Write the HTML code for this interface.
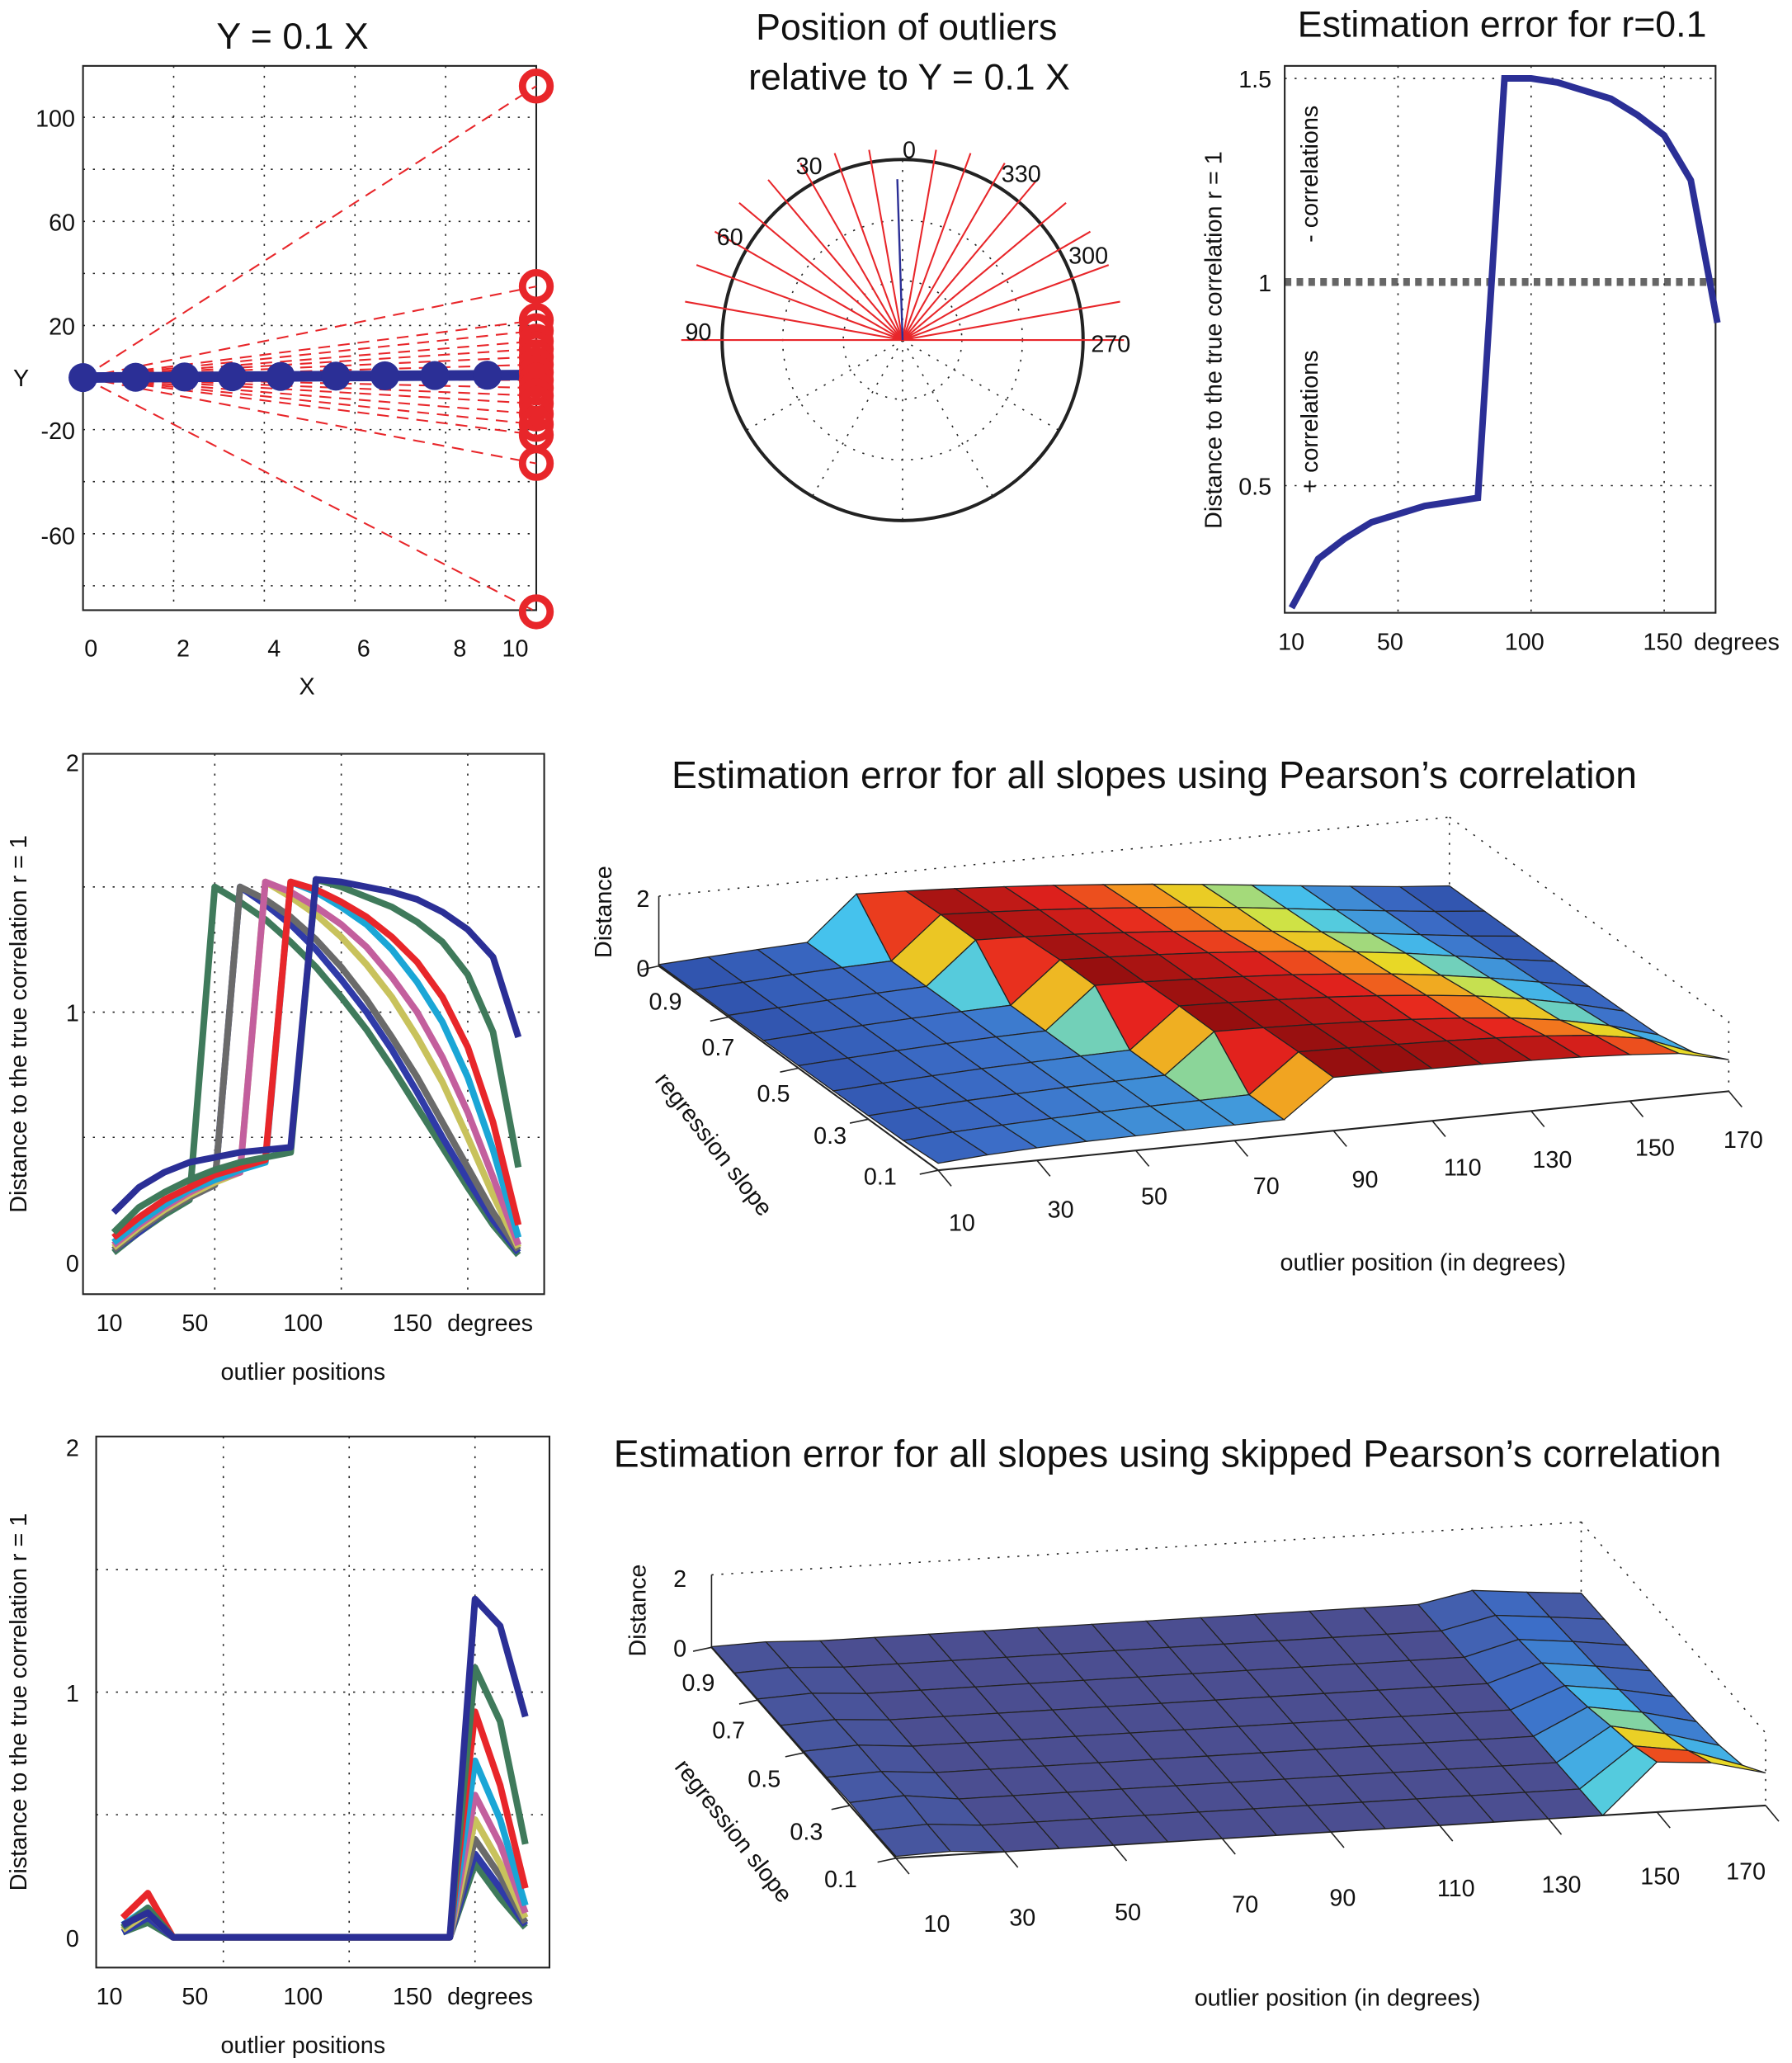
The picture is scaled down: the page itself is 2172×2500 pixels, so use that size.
<!DOCTYPE html>
<html><head><meta charset="utf-8"><style>
html,body{margin:0;padding:0;background:#fff}
svg{display:block}
text{font-family:"Liberation Sans",sans-serif;fill:#111}
</style></head><body>
<svg id="fig" width="2172" height="2500" viewBox="0 0 1360 1565.4" preserveAspectRatio="none" xmlns="http://www.w3.org/2000/svg">
<g id="titles" font-size="28">
<text x="222" y="37" text-anchor="middle">Y = 0.1 X</text>
<text x="688" y="30" text-anchor="middle">Position of outliers</text>
<text x="690" y="68" text-anchor="middle">relative to Y = 0.1 X</text>
<text x="1140" y="28" text-anchor="middle">Estimation error for r=0.1</text>
<text x="876" y="598" text-anchor="middle" font-size="29">Estimation error for all slopes using Pearson’s correlation</text>
<text x="886" y="1113" text-anchor="middle" font-size="29">Estimation error for all slopes using skipped Pearson’s correlation</text>
</g>
<g id="gA"></g><g id="gB"></g><g id="gC"></g><g id="gD"></g><g id="gE"></g><g id="gF"></g><g id="gG"></g>
</svg>
<script>
// ---------- data ----------
const blueX = [0,1.16,2.24,3.29,4.36,5.58,6.66,7.76,8.92];
const outlierY = [112,35,22,18,14,11,8,5,2,-1,-4,-7,-10,-14,-18,-22,-33,-90];
const polarDeg = [0,10,20,30,40,50,60,70,80,100,110,120,130,140,150,160,170,180];
const degrees = [10,20,30,40,50,60,70,80,90,100,110,120,130,140,150,160,170];
const errR01 = [0.20,0.32,0.37,0.41,0.43,0.45,0.46,0.47,1.50,1.50,1.49,1.47,1.45,1.41,1.36,1.25,0.90];
const slopes = [0.1,0.2,0.3,0.4,0.5,0.6,0.7,0.8,0.9];
const pear1 = [0.20,0.30,0.36,0.40,0.42,0.44,0.45,0.46,1.53,1.52,1.50,1.48,1.45,1.40,1.33,1.22,0.90];
const pear2 = [0.12,0.22,0.28,0.33,0.37,0.40,0.42,0.44,1.53,1.50,1.46,1.42,1.36,1.28,1.15,0.92,0.38];
const pear3 = [0.10,0.18,0.25,0.30,0.35,0.38,0.41,1.52,1.49,1.44,1.38,1.30,1.20,1.06,0.86,0.56,0.15];
const pear4 = [0.08,0.16,0.23,0.29,0.33,0.37,0.40,1.52,1.48,1.42,1.35,1.25,1.12,0.96,0.74,0.45,0.10];
const pear5 = [0.07,0.15,0.22,0.28,0.33,0.36,1.52,1.48,1.42,1.35,1.26,1.14,1.00,0.82,0.60,0.34,0.07];
const pear6 = [0.06,0.14,0.21,0.27,0.32,0.36,1.52,1.46,1.39,1.30,1.19,1.06,0.90,0.72,0.50,0.27,0.06];
const pear7 = [0.05,0.13,0.20,0.26,0.31,1.50,1.45,1.38,1.29,1.18,1.05,0.90,0.74,0.56,0.38,0.20,0.05];
const pear8 = [0.05,0.12,0.20,0.26,0.31,1.50,1.43,1.35,1.25,1.13,1.00,0.85,0.68,0.50,0.33,0.17,0.04];
const pear9 = [0.04,0.12,0.19,0.25,1.50,1.44,1.37,1.28,1.18,1.06,0.93,0.78,0.62,0.46,0.30,0.15,0.03];
const skip1 = [0.05,0.10,0,0,0,0,0,0,0,0,0,0,0,0,1.38,1.27,0.90];
const skip2 = [0.04,0.12,0,0,0,0,0,0,0,0,0,0,0,0,1.10,0.88,0.38];
const skip3 = [0.08,0.18,0,0,0,0,0,0,0,0,0,0,0,0,0.92,0.62,0.20];
const skip4 = [0.05,0.12,0,0,0,0,0,0,0,0,0,0,0,0,0.72,0.48,0.13];
const skip5 = [0.04,0.12,0,0,0,0,0,0,0,0,0,0,0,0,0.58,0.38,0.10];
const skip6 = [0.03,0.10,0,0,0,0,0,0,0,0,0,0,0,0,0.48,0.30,0.08];
const skip7 = [0.03,0.10,0,0,0,0,0,0,0,0,0,0,0,0,0.40,0.25,0.06];
const skip8 = [0.02,0.08,0,0,0,0,0,0,0,0,0,0,0,0,0.34,0.20,0.05];
const skip9 = [0.02,0.06,0,0,0,0,0,0,0,0,0,0,0,0,0.30,0.16,0.04];
const pearson = [pear1,pear2,pear3,pear4,pear5,pear6,pear7,pear8,pear9];
const skipped = [skip1,skip2,skip3,skip4,skip5,skip6,skip7,skip8,skip9];
const lineColors = ['#2b2f96','#3f7a5b','#e8262a','#1aa6d6','#c35f9d','#c8c25c','#6a6a6a','#2f3aa8','#3f7a5b'];

const NS='http://www.w3.org/2000/svg';
function mk(parent,tag,attrs,name){const e=document.createElementNS(NS,tag);for(const k in attrs)e.setAttribute(k,attrs[k]);


parent.appendChild(e);return e;}
function txt(parent,x,y,s,name,opt){const o=Object.assign({x:x,y:y,'font-size':18,'text-anchor':'middle'},opt||{});const t=mk(parent,'text',o,name);t.textContent=s;return t;}
const dot={stroke:'#222','stroke-width':1,'stroke-dasharray':'1.5 6',fill:'none'};

// ---------- Panel A ----------
(function(){
const g=document.getElementById('gA');
const xA=X=>63+34.4*X, yA=Y=>286.5-1.975*Y;
[-80,-40,0,40,80,100,60,20,-20,-60].forEach(v=>mk(g,'line',Object.assign({x1:63,x2:407,y1:yA(v),y2:yA(v)},dot),'grid-h'));
[2,4,6,8].forEach(v=>mk(g,'line',Object.assign({x1:xA(v),x2:xA(v),y1:50,y2:463},dot),'grid-v'));
mk(g,'rect',{x:63,y:50,width:344,height:413,fill:'none',stroke:'#222','stroke-width':1.3},'axes-box-a');
outlierY.forEach(v=>mk(g,'line',{x1:xA(0),y1:yA(0),x2:xA(10),y2:yA(v),stroke:'#e8262a','stroke-width':1.3,'stroke-dasharray':'9 6'},'outlier-dash'));
mk(g,'line',{x1:xA(0),y1:yA(0),x2:xA(10),y2:yA(1),stroke:'#2b2f96','stroke-width':8},'regression-line');
blueX.forEach(X=>mk(g,'circle',{cx:xA(X),cy:yA(0.1*X),r:11,fill:'#2b2f96'},'data-point'));
outlierY.forEach(v=>{mk(g,'circle',{cx:xA(10),cy:yA(v),r:10.5,fill:'none',stroke:'#e8262a','stroke-width':5.5},'outlier-point');});
[[69,'0'],[139,'2'],[208,'4'],[276,'6'],[349,'8'],[391,'10']].forEach(a=>txt(g,a[0],498,a[1],'x-tick-a'));
[[100,89],[60,168],[20,247],[-20,326],[-60,406]].forEach(a=>txt(g,57,a[1]+7,String(a[0]),'y-tick-a',{'text-anchor':'end'}));
txt(g,233,527,'X','x-label-a');txt(g,16,293,'Y','y-label-a');
})();

// ---------- Panel B (polar) ----------
(function(){
const g=document.getElementById('gB');const cx=685,cy=258,R=137;
[45,91].forEach(r=>mk(g,'circle',Object.assign({cx:cx,cy:cy,r:r},dot),'polar-grid-circle'));
for(let a=0;a<360;a+=30){const t=a*Math.PI/180;mk(g,'line',Object.assign({x1:cx,y1:cy,x2:cx-R*Math.sin(t),y2:cy-R*Math.cos(t)},dot),'polar-spoke');}
mk(g,'circle',{cx:cx,cy:cy,r:R,fill:'none',stroke:'#222','stroke-width':2.5},'polar-circle');
polarDeg.forEach(d=>{const a=(90-d)*Math.PI/180;const L=142+26*Math.abs(Math.sin(a));
mk(g,'line',{x1:cx,y1:cy,x2:cx-L*Math.sin(a),y2:cy-L*Math.cos(a),stroke:'#e8262a','stroke-width':1.3},'outlier-ray');});
mk(g,'line',{x1:cx,y1:cy,x2:cx-4,y2:cy-122,stroke:'#2b2f96','stroke-width':1.5},'regression-ray');
[[690,120,'0'],[614,132,'30'],[554,186,'60'],[530,258,'90'],[775,138,'330'],[826,200,'300'],[843,267,'270']].forEach(a=>txt(g,a[0],a[1],a[2],'polar-label'));
})();

// ---------- Panel C ----------
(function(){
const g=document.getElementById('gC');
const xC=d=>960+2.02*d, yC=v=>214-309*(v-1);
[1.5,0.5].forEach(v=>mk(g,'line',Object.assign({x1:975,x2:1302,y1:yC(v),y2:yC(v)},dot),'grid-h'));
[50,100,150].forEach(v=>mk(g,'line',Object.assign({x1:xC(v),x2:xC(v),y1:50,y2:465},dot),'grid-v'));
mk(g,'line',{x1:975,x2:1302,y1:yC(1),y2:yC(1),stroke:'#333','stroke-width':6,'stroke-dasharray':'5 4',opacity:0.75},'reference-line');
mk(g,'rect',{x:975,y:50,width:327,height:415,fill:'none',stroke:'#222','stroke-width':1.3},'axes-box-c');
mk(g,'polyline',{points:degrees.map((d,i)=>xC(d)+','+yC(errR01[i])).join(' '),fill:'none',stroke:'#2b2f96','stroke-width':5},'error-line');
[[1.5,'1.5'],[1,'1'],[0.5,'0.5']].forEach(a=>txt(g,965,yC(a[0])+7,a[1],'y-tick-c',{'text-anchor':'end'}));
[[980,'10'],[1055,'50'],[1157,'100'],[1262,'150']].forEach(a=>txt(g,a[0],493,a[1],'x-tick-c'));
txt(g,1318,493,'degrees','x-unit-c');
txt(g,0,0,'Distance to the true correlation r = 1','y-label-c',{transform:'translate(927,258) rotate(-90)'});
txt(g,0,0,'- correlations','neg-label',{transform:'translate(1000,132) rotate(-90)'});
txt(g,0,0,'+ correlations','pos-label',{transform:'translate(1000,320) rotate(-90)'});
})();

// ---------- line panels D & F ----------
function linePanel(id,data,box,y0,ys,x0,xs,ylabs){
const g=document.getElementById(id);
const xf=d=>x0+xs*d, yf=v=>y0-ys*v;
[0.5,1,1.5].forEach(v=>mk(g,'line',Object.assign({x1:box[0],x2:box[2],y1:yf(v),y2:yf(v)},dot),'grid-h'));
[50,100,150].forEach(v=>mk(g,'line',Object.assign({x1:xf(v),x2:xf(v),y1:box[1],y2:box[3]},dot),'grid-v'));
mk(g,'rect',{x:box[0],y:box[1],width:box[2]-box[0],height:box[3]-box[1],fill:'none',stroke:'#222','stroke-width':1.3},'axes-box');
for(let i=data.length-1;i>=0;i--){
mk(g,'polyline',{points:degrees.map((d,j)=>xf(d)+','+yf(data[i][j])).join(' '),fill:'none',stroke:lineColors[i],'stroke-width':5,'stroke-linejoin':'round'},'series-slope-'+slopes[i]);}
[2,1,0].forEach(v=>txt(g,60,yf(v)+7,String(v),'y-tick',{'text-anchor':'end'}));
const ty=box[3]+28;
[[83,'10'],[148,'50'],[230,'100'],[313,'150']].forEach(a=>txt(g,a[0],ty,a[1],'x-tick'));
txt(g,372,ty,'degrees','x-unit');
txt(g,230,ty+37,'outlier positions','x-label');
txt(g,0,0,'Distance to the true correlation r = 1','y-label',{transform:'translate(20,'+((box[1]+box[3])/2)+') rotate(-90)'});
}
linePanel('gD',pearson,[63,572,413,982],958,190,67,1.92);
linePanel('gF',skipped,[73,1090,417,1493],1470,186,74,1.91);

// ---------- 3D surfaces ----------
function jet(v,low){const t=Math.max(0,Math.min(1,v/1.5));
const st=[[0,low],[0.2,[60,110,200]],[0.4,[70,200,240]],[0.55,[230,230,40]],[0.7,[245,140,30]],[0.82,[230,35,30]],[1,[150,15,15]]];
for(let k=1;k<st.length;k++){if(t<=st[k][0]){const a=st[k-1],b=st[k],f=(t-a[0])/(b[0]-a[0]);
return 'rgb('+[0,1,2].map(c=>Math.round(a[1][c]+f*(b[1][c]-a[1][c]))).join(',')+')';}}return 'rgb(150,15,15)';}
function surface(id,data,BL,FL,BR,h,low,labels){
const g=document.getElementById(id);
const P=(s,d,z)=>{const u=(0.9-s)/0.8,v=(d-10)/160;return [BL[0]+u*(FL[0]-BL[0])+v*(BR[0]-BL[0]),BL[1]+u*(FL[1]-BL[1])+v*(BR[1]-BL[1])-h*z];};
const pt=p=>p[0].toFixed(1)+','+p[1].toFixed(1);
const bl2=P(0.9,10,2),br2=P(0.9,170,2),br0=P(0.9,170,0),fr0=P(0.1,170,0),fr2=P(0.1,170,2);
mk(g,'polyline',Object.assign({points:[bl2,br2,br0].map(pt).join(' ')},dot),'box-back');
mk(g,'polyline',Object.assign({points:[br2,fr2,fr0].map(pt).join(' ')},dot),'box-side');
mk(g,'line',{x1:P(0.9,10,0)[0],y1:P(0.9,10,0)[1],x2:bl2[0],y2:bl2[1],stroke:'#222','stroke-width':1},'z-axis');
const a1=P(0.9,10,0),a2=P(0.1,10,0),a3=P(0.1,170,0);
mk(g,'polyline',{points:[a1,a2,a3].map(pt).join(' '),fill:'none',stroke:'#222','stroke-width':1.3},'base-axes');
for(let i=slopes.length-1;i>0;i--){for(let j=0;j<degrees.length-1;j++){
const s0=slopes[i],s1=slopes[i-1],d0=degrees[j],d1=degrees[j+1];
const z=[data[i][j],data[i][j+1],data[i-1][j+1],data[i-1][j]];
const avg=(z[0]+z[1]+z[2]+z[3])/4;
mk(g,'polygon',{points:[P(s0,d0,z[0]),P(s0,d1,z[1]),P(s1,d1,z[2]),P(s1,d0,z[3])].map(pt).join(' '),fill:jet(avg,low),stroke:'#222','stroke-width':0.8},'surface-cell');}}
slopes.filter((s,i)=>i%2==0).forEach(s=>{const p=P(s,10,0);mk(g,'line',{x1:p[0],y1:p[1],x2:p[0]-14,y2:p[1]+3,stroke:'#222','stroke-width':1},'slope-tick');});
degrees.filter((d,i)=>i%2==0).forEach(d=>{const p=P(0.1,d,0);mk(g,'line',{x1:p[0],y1:p[1],x2:p[0]+10,y2:p[1]+12,stroke:'#222','stroke-width':1},'degree-tick');});
labels(g);
}
surface('gE',pearson,[500,733],[712,888],[1100,673],26.5,[45,75,165],g=>{
txt(g,0,0,'Distance','z-label',{transform:'translate(464,692) rotate(-90)'});
txt(g,488,688,'2','z-tick');txt(g,488,741,'0','z-tick');
[[505,766,'0.9'],[545,801,'0.7'],[587,836,'0.5'],[630,868,'0.3'],[668,899,'0.1']].forEach(a=>txt(g,a[0],a[1],a[2],'slope-tick-label'));
txt(g,0,0,'regression slope','slope-label',{transform:'translate(537,872) rotate(52)'});
[[730,934,'10'],[805,924,'30'],[876,914,'50'],[961,906,'70'],[1036,901,'90'],[1110,892,'110'],[1178,886,'130'],[1256,877,'150'],[1323,871,'170']].forEach(a=>txt(g,a[0],a[1],a[2],'degree-tick-label'));
txt(g,1080,964,'outlier position (in degrees)','x-label-e');});
surface('gG',skipped,[540,1250],[680,1410],[1200,1210],27.5,[75,78,145],g=>{
txt(g,0,0,'Distance','z-label',{transform:'translate(490,1222) rotate(-90)'});
txt(g,516,1204,'2','z-tick');txt(g,516,1257,'0','z-tick');
[[530,1283,'0.9'],[553,1319,'0.7'],[580,1356,'0.5'],[612,1396,'0.3'],[638,1432,'0.1']].forEach(a=>txt(g,a[0],a[1],a[2],'slope-tick-label'));
txt(g,0,0,'regression slope','slope-label',{transform:'translate(552,1393) rotate(52)'});
[[711,1466,'10'],[776,1461,'30'],[856,1457,'50'],[945,1451,'70'],[1019,1446,'90'],[1105,1439,'110'],[1185,1436,'130'],[1260,1430,'150'],[1325,1426,'170']].forEach(a=>txt(g,a[0],a[1],a[2],'degree-tick-label'));
txt(g,1015,1522,'outlier position (in degrees)','x-label-g');});
</script>
</body></html>
